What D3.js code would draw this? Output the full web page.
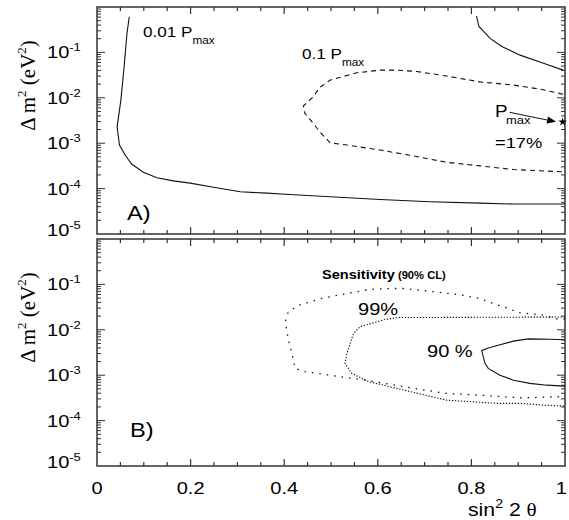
<!DOCTYPE html>
<html><head><meta charset="utf-8">
<script src="https://cdn.jsdelivr.net/npm/d3@7"></script>
<style>body{margin:0;background:#fff}</style>
</head><body>
<svg id="c" width="569" height="520"></svg>
<script>
// ---- data (sin^2 2θ, Δm^2 in eV^2) ----
const xTicks = [0, 0.2, 0.4, 0.6, 0.8, 1];
const xTickLabels = ["0", "0.2", "0.4", "0.6", "0.8", "1"];
const yDecades = [1e-1, 1e-2, 1e-3, 1e-4, 1e-5];
const yDecadeExp = ["-1", "-2", "-3", "-4", "-5"];

// Panel A: 0.01 Pmax (solid, left/bottom)
const a001X = [0.069,0.064,0.058,0.051,0.046,0.043,0.048,0.060,0.074,0.099,0.128,0.163,0.199,0.249,0.306,0.363,0.412,0.498,0.605,0.712,0.818,0.889,1.0];
const a001Y = [0.611,0.263,0.0490,0.00891,0.00380,0.00229,9.12e-4,5.50e-4,3.47e-4,2.29e-4,1.74e-4,1.48e-4,1.32e-4,1.07e-4,8.51e-5,7.94e-5,7.41e-5,6.61e-5,5.75e-5,5.13e-5,4.79e-5,4.57e-5,4.57e-5];
// Panel A: 0.01 Pmax (solid, top right)
const a001bX = [0.811,0.816,0.840,0.865,0.904,0.954,0.996];
const a001bY = [0.631,0.372,0.204,0.135,0.0871,0.0575,0.0407];
// Panel A: 0.1 Pmax (dashed)
const a01X = [0.996,0.947,0.890,0.818,0.747,0.683,0.640,0.605,0.555,0.498,0.476,0.462,0.441,0.444,0.462,0.476,0.498,0.534,0.605,0.676,0.747,0.818,0.890,0.996];
const a01Y = [0.0120,0.0155,0.0191,0.0224,0.0302,0.0380,0.0407,0.0407,0.0355,0.0245,0.0170,0.0105,0.00661,0.00457,0.00275,0.00178,0.00102,9.12e-4,7.08e-4,5.25e-4,3.80e-4,3.16e-4,2.63e-4,2.34e-4];
// Pmax point and arrow
const pmaxPoint = [0.995, 2.95e-3];
const arrowFrom = [0.882, 4.79e-3];
const arrowTo = [0.981, 2.95e-3];

// Panel B: sensitivity (sparse dotted)
const bSensX = [1.0,0.986,0.950,0.918,0.900,0.882,0.847,0.818,0.776,0.719,0.654,0.626,0.583,0.534,0.480,0.434,0.409,0.402,0.409,0.419,0.423,0.444,0.498,0.580,0.676,0.747,0.818,0.910,1.0];
const bSensY = [0.0174,0.0170,0.0214,0.0229,0.0240,0.0288,0.0380,0.0490,0.0589,0.0692,0.0813,0.0813,0.0776,0.0631,0.0490,0.0355,0.0251,0.0151,0.00603,0.00234,0.00141,0.00120,0.00100,7.59e-4,5.13e-4,3.98e-4,3.63e-4,3.16e-4,3.39e-4];
// Panel B: 99% (dense dotted)
const b99X = [1.0,0.644,0.612,0.583,0.562,0.548,0.541,0.534,0.530,0.544,0.580,0.640,0.747,0.854,0.904,0.954,1.0];
const b99Y = [0.0191,0.0186,0.0166,0.0135,0.0117,0.00832,0.00501,0.00302,0.00182,0.00110,7.24e-4,5.13e-4,2.82e-4,2.40e-4,2.40e-4,2.19e-4,2.09e-4];
// Panel B: 90% (solid)
const b90X = [1.0,0.968,0.922,0.890,0.861,0.833,0.822,0.829,0.836,0.861,0.890,0.925,0.961,1.0];
const b90Y = [0.00603,0.00617,0.00631,0.00562,0.00468,0.00389,0.00347,0.00182,0.00141,0.00100,7.76e-4,6.61e-4,6.03e-4,5.75e-4];

// ---- drawing ----
const svg = d3.select("#c");
const SX = 1.18; // horizontal text stretch
const sans = "'Liberation Sans', Arial, sans-serif";
const serif = "'Liberation Serif', 'Times New Roman', serif";
const x = d3.scaleLinear().domain([0, 1]).range([97, 565]);
const yA = d3.scaleLog().domain([1e-5, 1]).range([234, 7]);
const yB = d3.scaleLog().domain([1e-5, 1]).range([466, 239]);
const frameColor = "#333";

function txt(px, py, size, opts = {}) {
  const g = svg.append("g").attr("transform", `translate(${px},${py}) scale(${opts.sx || SX},1)`);
  const t = g.append("text").attr("x", 0).attr("y", 0)
    .attr("font-family", opts.family || sans).attr("font-size", size)
    .attr("font-weight", opts.weight || "normal").attr("fill", "#000")
    .attr("text-anchor", opts.anchor || "start");
  return t;
}

function panel(y) {
  const [y0, y1] = y.range();
  const g = svg.append("g");
  g.append("rect").attr("x", x(0)).attr("y", y1).attr("width", x(1) - x(0)).attr("height", y0 - y1)
    .attr("fill", "none").attr("stroke", frameColor).attr("stroke-width", 1.5);
  // x ticks (every 0.05) on top and bottom, inside
  const xt = d3.range(1, 20).map(i => i * 0.05);
  xt.forEach(v => {
    const major = Math.abs(v * 5 - Math.round(v * 5)) < 1e-6;
    const L = major ? 7 : 4;
    g.append("line").attr("x1", x(v)).attr("x2", x(v)).attr("y1", y0).attr("y2", y0 - L).attr("stroke", frameColor).attr("stroke-width", 1.2);
    g.append("line").attr("x1", x(v)).attr("x2", x(v)).attr("y1", y1).attr("y2", y1 + L).attr("stroke", frameColor).attr("stroke-width", 1.2);
  });
  // log y ticks left and right, inside
  y.ticks().forEach(v => {
    const lg = Math.log10(v);
    const major = Math.abs(lg - Math.round(lg)) < 1e-6;
    if (v <= 1e-5 || v >= 1) return;
    const L = major ? 8 : 4;
    g.append("line").attr("x1", x(0)).attr("x2", x(0) + L).attr("y1", y(v)).attr("y2", y(v)).attr("stroke", frameColor).attr("stroke-width", 1);
    g.append("line").attr("x1", x(1)).attr("x2", x(1) - L).attr("y1", y(v)).attr("y2", y(v)).attr("stroke", frameColor).attr("stroke-width", 1);
  });
  // decade labels
  yDecades.forEach((v, i) => {
    const off = v === 1e-5 ? 2 : 6;
    const t = txt(47, y(v) + off, 17);
    t.append("tspan").text("10");
    t.append("tspan").attr("font-size", 11).attr("dy", -7).text(yDecadeExp[i]);
  });
  // y title
  const cy = (y0 + y1) / 2 - 35;
  const tt = svg.append("text").attr("transform", `translate(35,${cy}) rotate(-90)`)
    .attr("font-family", serif).attr("font-size", 21).attr("text-anchor", "middle").attr("fill", "#000");
  tt.append("tspan").text("\u0394 m");
  tt.append("tspan").attr("font-size", 13).attr("dy", -9).text("2");
  tt.append("tspan").attr("dy", 9).text(" (eV");
  tt.append("tspan").attr("font-size", 13).attr("dy", -9).text("2");
  tt.append("tspan").attr("dy", 9).text(")");
}

panel(yA);
panel(yB);

// x tick labels
xTicks.forEach((v, i) => {
  if (v === 1) txt(567, 493.5, 17, {anchor: "end"}).text(xTickLabels[i]);
  else txt(x(v), 493.5, 17, {anchor: "middle"}).text(xTickLabels[i]);
});
// x title
{
  const t = txt(468, 516, 18);
  t.append("tspan").text("sin");
  t.append("tspan").attr("font-size", 12).attr("dy", -8).text("2");
  t.append("tspan").attr("dy", 8).text(" 2 ");
  t.append("tspan").attr("font-family", serif).text("\u03b8");
}

function curve(xs, ys, y, dash, width) {
  const pts = xs.map((v, i) => [v, ys[i]]);
  const line = d3.line().x(d => x(d[0])).y(d => y(d[1]));
  svg.append("path").attr("d", line(pts)).attr("fill", "none").attr("stroke", "#111")
    .attr("stroke-width", width || 1.1).attr("stroke-dasharray", dash || null);
}

curve(a001X, a001Y, yA);
curve(a001bX, a001bY, yA);
curve(a01X, a01Y, yA, "5,4");

curve(bSensX, bSensY, yB, "1.5,6", 1.3);
curve(b99X, b99Y, yB, "1.3,1.7", 1.1);
curve(b90X, b90Y, yB);

// Pmax star and arrow
svg.append("path").attr("d", d3.symbol(d3.symbolStar, 22)())
  .attr("transform", `translate(${x(pmaxPoint[0])},${yA(pmaxPoint[1])})`).attr("fill", "#000");
{
  const x1 = x(arrowFrom[0]), y1 = yA(arrowFrom[1]), x2 = x(arrowTo[0]), y2 = yA(arrowTo[1]);
  const ang = Math.atan2(y2 - y1, x2 - x1);
  const hl = 9, hw = 3.5;
  const bx = x2 - hl * Math.cos(ang), by = y2 - hl * Math.sin(ang);
  svg.append("line").attr("x1", x1).attr("y1", y1).attr("x2", bx).attr("y2", by).attr("stroke", "#111").attr("stroke-width", 1);
  const p = [[x2, y2], [bx - hw * Math.sin(ang), by + hw * Math.cos(ang)], [bx + hw * Math.sin(ang), by - hw * Math.cos(ang)]];
  svg.append("path").attr("d", "M" + p.map(d => d.join(",")).join("L") + "Z").attr("fill", "#000");
}

// annotations
{
  const t = txt(143, 37, 14.5);
  t.append("tspan").text("0.01 P");
  t.append("tspan").attr("font-size", 10).attr("dy", 7).text("max");
}
{
  const t = txt(302, 58.5, 14.5);
  t.append("tspan").text("0.1 P");
  t.append("tspan").attr("font-size", 10).attr("dy", 7).text("max");
}
txt(495, 116.7, 16).text("P");
txt(506, 123.5, 11).text("max");
txt(495, 148, 15.5).text("=17%");
txt(127, 220, 20).text("A)");
txt(130, 436.7, 20).text("B)");
{
  const t = txt(322, 279, 13, {weight: "bold", sx: 1.12});
  t.append("tspan").text("Sensitivity");
  t.append("tspan").attr("font-size", 10).text(" (90% CL)");
}
txt(358, 315, 17).text("99%");
txt(427, 356.5, 17).text("90 %");
</script>
</body></html>
